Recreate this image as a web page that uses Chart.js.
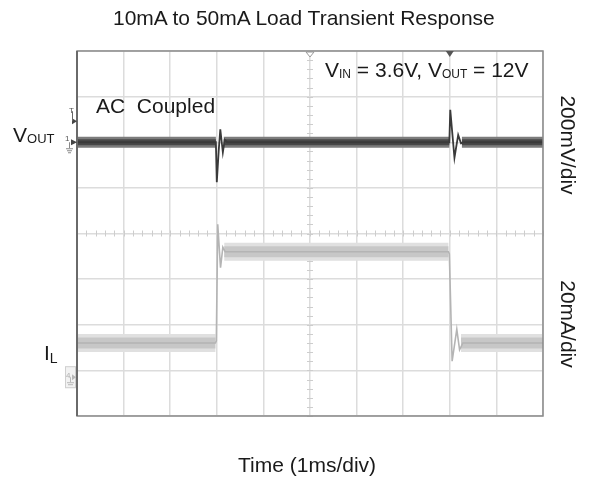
<!DOCTYPE html>
<html>
<head>
<meta charset="utf-8">
<script src="https://cdn.jsdelivr.net/npm/chart.js@4.4.1/dist/chart.umd.min.js"></script>
<style>
html,body{margin:0;padding:0;background:#fff;}
#wrap{position:relative;width:589px;height:480px;font-family:"Liberation Sans",Arial,sans-serif;color:#1a1a1a;overflow:hidden;}
#wrap canvas{position:absolute;left:0;top:0;}
.lbl{position:absolute;white-space:nowrap;line-height:1;font-size:21px;}
.sub{font-size:12px;position:relative;top:1px;}
.rot{position:absolute;white-space:nowrap;line-height:1;font-size:21px;transform:translate(-50%,-50%) rotate(90deg);}
.tiny{position:absolute;line-height:1;font-size:8px;color:#555;}
</style>
</head>
<body>
<div id="wrap">
  <canvas id="c" width="589" height="480"></canvas>
  <div class="lbl" style="left:113px;top:7px;">10mA to 50mA Load Transient Response</div>
  <div class="lbl" style="left:325px;top:59px;">V<span class="sub">IN</span> = 3.6V, V<span class="sub">OUT</span> = 12V</div>
  <div class="lbl" style="left:96px;top:95px;">AC&nbsp; Coupled</div>
  <div class="lbl" style="left:13px;top:124px;">V<span class="sub" style="font-size:13px;">OUT</span></div>
  <div class="lbl" style="left:44px;top:342px;">I<span class="sub" style="font-size:14px;top:3px;">L</span></div>
  <div class="rot" style="left:568px;top:145px;">200mV/div</div>
  <div class="rot" style="left:568px;top:324px;">20mA/div</div>
  <div class="lbl" style="left:238px;top:454px;">Time (1ms/div)</div>
  <div class="tiny" style="left:69px;top:107px;">T</div>
  <div class="tiny" style="left:65px;top:135px;">1</div>
  <div class="tiny" style="left:66px;top:372px;color:#b0b0b0;">4</div>
</div>
<script>
// ---- data (time in ms, Vout in mV AC-coupled, IL in mA) ----
const voutBandTime = [0, 2.98, 2.99, 3.15, 7.99, 8.0, 8.26, 10];
const voutBandMv   = [0, 0, null, 0, 0, null, 0, 0];
const voutTime = [0, 2.98, 3.0, 3.04, 3.075, 3.13, 3.17, 3.22, 7.99, 8.01, 8.10, 8.18, 8.24, 8.3, 10];
const voutMv   = [0, 0, -175, -40, 57, -44, 10, 0, 0, 142, -68, 32, -5, 0, 0];
const ilBandTime = [0, 2.97, 2.98, 3.16, 7.97, 7.98, 8.24, 10];
const ilBandMa   = [10, 10, null, 50, 50, null, 10, 10];
const ilTime = [0, 2.97, 2.99, 3.02, 3.08, 3.13, 3.18, 7.97, 7.99, 8.05, 8.15, 8.21, 8.28, 10];
const ilMa   = [10, 10, 11, 62, 43, 52, 50, 50, 49, 2, 16, 7, 10, 10];
const timeDivMs = [0, 10];        // 10 divisions, 1 ms/div
const voutRangeMv = [-1200, 400]; // 200 mV/div, 8 divisions
const ilRangeMa = [-22, 138];     // 20 mA/div
const triggerLevelMv = 92;
const ch4GroundMa = -5;
const triggerTimeMs = 5;
const markerTimeMs = 8;

const pts = (xs, ys) => xs.map((x, i) => ({x: x, y: ys[i]}));

const decor = {
  id: 'decor',
  beforeDatasetsDraw(chart) {
    const ctx = chart.ctx, x = chart.scales.x, y = chart.scales.yv;
    const cx = x.getPixelForValue(5), cy = y.getPixelForValue(-400);
    ctx.save();
    ctx.strokeStyle = '#cdcdcd';
    ctx.lineWidth = 1;
    for (let v = voutRangeMv[0]; v <= voutRangeMv[1]; v += 40) {
      const py = Math.round(y.getPixelForValue(v)) + 0.5;
      ctx.beginPath(); ctx.moveTo(cx - 3, py); ctx.lineTo(cx + 3, py); ctx.stroke();
    }
    for (let t = timeDivMs[0]; t <= timeDivMs[1] + 1e-9; t += 0.2) {
      const px = Math.round(x.getPixelForValue(t)) + 0.5;
      ctx.beginPath(); ctx.moveTo(px, cy - 3); ctx.lineTo(px, cy + 3); ctx.stroke();
    }
    ctx.restore();
  },
  afterDraw(chart) {
    const ctx = chart.ctx, a = chart.chartArea;
    const x = chart.scales.x, yv = chart.scales.yv, yi = chart.scales.yi;
    ctx.save();
    // frame
    ctx.strokeStyle = '#8a8a8a'; ctx.lineWidth = 1.5;
    ctx.strokeRect(a.left, a.top, a.right - a.left, a.bottom - a.top);
    ctx.strokeStyle = '#6a6a6a'; ctx.lineWidth = 2;
    ctx.beginPath(); ctx.moveTo(a.left, a.top); ctx.lineTo(a.left, a.bottom); ctx.stroke();
    // top markers
    let px = x.getPixelForValue(triggerTimeMs);
    ctx.fillStyle = '#fff'; ctx.strokeStyle = '#999'; ctx.lineWidth = 1;
    ctx.beginPath(); ctx.moveTo(px - 4, a.top + 1); ctx.lineTo(px + 4, a.top + 1); ctx.lineTo(px, a.top + 6); ctx.closePath(); ctx.fill(); ctx.stroke();
    px = x.getPixelForValue(markerTimeMs);
    ctx.fillStyle = '#555';
    ctx.beginPath(); ctx.moveTo(px - 4, a.top); ctx.lineTo(px + 4, a.top); ctx.lineTo(px, a.top + 6); ctx.closePath(); ctx.fill();
    // trigger level arrow
    let py = yv.getPixelForValue(triggerLevelMv);
    ctx.fillStyle = '#444';
    ctx.beginPath(); ctx.moveTo(a.left - 5, py - 3); ctx.lineTo(a.left - 5, py + 3); ctx.lineTo(a.left, py); ctx.closePath(); ctx.fill();
    ctx.strokeStyle = '#666'; ctx.lineWidth = 1;
    ctx.beginPath(); ctx.moveTo(a.left - 4.5, py - 10); ctx.lineTo(a.left - 4.5, py); ctx.stroke();
    // channel 1 ground marker
    py = yv.getPixelForValue(0);
    ctx.fillStyle = '#444';
    ctx.beginPath(); ctx.moveTo(a.left - 6, py - 3); ctx.lineTo(a.left - 6, py + 3); ctx.lineTo(a.left, py); ctx.closePath(); ctx.fill();
    ctx.strokeStyle = '#888';
    ctx.beginPath(); ctx.moveTo(a.left - 7.5, py); ctx.lineTo(a.left - 7.5, py + 6); ctx.stroke();
    ctx.beginPath(); ctx.moveTo(a.left - 11, py + 6.5); ctx.lineTo(a.left - 4, py + 6.5);
    ctx.moveTo(a.left - 10, py + 8.5); ctx.lineTo(a.left - 5, py + 8.5);
    ctx.moveTo(a.left - 9, py + 10.5); ctx.lineTo(a.left - 6, py + 10.5); ctx.stroke();
    // channel 4 marker box
    py = yi.getPixelForValue(ch4GroundMa);
    ctx.fillStyle = '#f2f2f2'; ctx.strokeStyle = '#cfcfcf'; ctx.lineWidth = 1;
    ctx.fillRect(a.left - 12, py - 11, 11, 22); ctx.strokeRect(a.left - 11.5, py - 10.5, 10, 21);
    ctx.fillStyle = '#b8b8b8';
    ctx.beginPath(); ctx.moveTo(a.left - 5, py - 3); ctx.lineTo(a.left - 5, py + 3); ctx.lineTo(a.left - 1, py); ctx.closePath(); ctx.fill();
    ctx.strokeStyle = '#b8b8b8';
    ctx.beginPath(); ctx.moveTo(a.left - 6.5, py); ctx.lineTo(a.left - 6.5, py + 5);
    ctx.moveTo(a.left - 10, py + 5.5); ctx.lineTo(a.left - 3, py + 5.5);
    ctx.moveTo(a.left - 9, py + 7.5); ctx.lineTo(a.left - 4, py + 7.5); ctx.stroke();
    ctx.restore();
  }
};

new Chart(document.getElementById('c'), {
  type: 'line',
  data: {
    datasets: [
      { data: pts(ilBandTime, ilBandMa), yAxisID: 'yi', borderColor: '#e0e0e0', borderWidth: 18, order: 6 },
      { data: pts(ilBandTime, ilBandMa), yAxisID: 'yi', borderColor: '#c7c7c7', borderWidth: 11, order: 5 },
      { data: pts(ilTime, ilMa), yAxisID: 'yi', borderColor: '#b4b4b4', borderWidth: 1.6, order: 4 },
      { data: pts(voutBandTime, voutBandMv), yAxisID: 'yv', borderColor: '#7c7c7c', borderWidth: 11, order: 3 },
      { data: pts(voutBandTime, voutBandMv), yAxisID: 'yv', borderColor: '#484848', borderWidth: 6, order: 2 },
      { data: pts(voutTime, voutMv), yAxisID: 'yv', borderColor: '#3a3a3a', borderWidth: 1.8, order: 1 }
    ]
  },
  options: {
    responsive: false,
    animation: false,
    events: [],
    layout: { padding: { left: 77, right: 46, top: 51, bottom: 64 } },
    elements: { point: { radius: 0 }, line: { tension: 0, borderCapStyle: 'butt', borderJoinStyle: 'miter', fill: false } },
    plugins: { legend: { display: false }, tooltip: { enabled: false }, title: { display: false } },
    scales: {
      x: { type: 'linear', min: timeDivMs[0], max: timeDivMs[1],
           ticks: { display: false, stepSize: 1 },
           grid: { color: '#dcdcdc', lineWidth: 1.5, drawTicks: false },
           border: { display: false } },
      yv: { type: 'linear', position: 'left', min: voutRangeMv[0], max: voutRangeMv[1],
            ticks: { display: false, stepSize: 200 },
            grid: { color: '#dcdcdc', lineWidth: 1.5, drawTicks: false },
            border: { display: false } },
      yi: { type: 'linear', position: 'right', min: ilRangeMa[0], max: ilRangeMa[1], display: false }
    }
  },
  plugins: [decor]
});
</script>
</body>
</html>
